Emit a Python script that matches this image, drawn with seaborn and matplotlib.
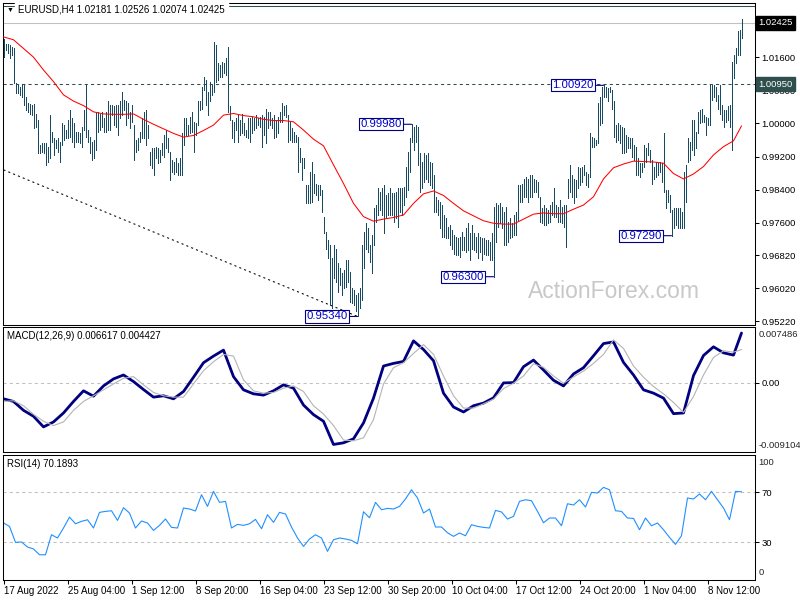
"""EURUSD H4 bar chart with moving average, MACD(12,26,9) and RSI(14) panes, MT4 style."""

import matplotlib
matplotlib.use("Agg")
import matplotlib.pyplot as plt
import numpy as np
import seaborn as sns

# 4h bars, 17 Aug 2022 -> 11 Nov 2022 (high / low)
highs = [
    1.0205, 1.0193, 1.0191, 1.0189, 1.0185, 1.0181, 1.0097, 1.0093, 1.0089, 1.0095,
    1.0093, 1.0065, 1.0049, 1.0046, 1.0045, 1.0046, 1.0024, 1.0008, 0.9948, 0.9952,
    0.9952, 0.9952, 0.9944, 1.0020, 0.9980, 0.9964, 0.9960, 0.9964, 0.9956, 1.0000,
    0.9996, 0.9984, 1.0008, 1.0032, 1.0012, 1.0000, 0.9980, 0.9980, 0.9976, 0.9992,
    1.0032, 1.0093, 0.9984, 0.9968, 0.9956, 0.9960, 1.0028, 1.0028, 1.0024, 1.0028,
    1.0012, 1.0028, 1.0053, 1.0045, 1.0045, 1.0041, 1.0045, 1.0045, 1.0053, 1.0077,
    1.0057, 1.0053, 1.0049, 1.0028, 1.0045, 0.9996, 0.9960, 0.9964, 0.9980, 1.0012,
    1.0028, 1.0032, 0.9996, 0.9932, 0.9940, 0.9940, 0.9944, 0.9940, 0.9936, 0.9952,
    0.9972, 0.9984, 0.9964, 0.9932, 0.9912, 0.9908, 0.9916, 0.9904, 0.9916, 0.9976,
    1.0012, 1.0012, 0.9996, 1.0016, 1.0028, 1.0004, 1.0000, 1.0053, 1.0053, 1.0089,
    1.0113, 1.0105, 1.0077, 1.0101, 1.0093, 1.0197, 1.0189, 1.0145, 1.0141, 1.0149,
    1.0145, 1.0157, 1.0185, 1.0041, 1.0008, 1.0004, 1.0012, 1.0020, 1.0008, 1.0024,
    1.0000, 0.9984, 1.0012, 1.0012, 1.0016, 1.0012, 1.0020, 1.0012, 1.0016, 1.0020,
    1.0016, 1.0036, 1.0028, 1.0028, 1.0012, 1.0020, 1.0008, 1.0016, 1.0028, 1.0049,
    1.0041, 1.0045, 1.0020, 1.0004, 0.9988, 0.9980, 0.9972, 0.9968, 0.9940, 0.9916,
    0.9916, 0.9851, 0.9851, 0.9883, 0.9908, 0.9879, 0.9855, 0.9851, 0.9851, 0.9839,
    0.9775, 0.9739, 0.9719, 0.9706, 0.9674, 0.9706, 0.9698, 0.9662, 0.9650, 0.9638,
    0.9646, 0.9670, 0.9670, 0.9642, 0.9602, 0.9598, 0.9586, 0.9590, 0.9602, 0.9706,
    0.9739, 0.9759, 0.9747, 0.9706, 0.9731, 0.9795, 0.9803, 0.9843, 0.9835,
    0.9843, 0.9851, 0.9827, 0.9831, 0.9843, 0.9831, 0.9831, 0.9835, 0.9843, 0.9843,
    0.9843, 0.9847, 0.9896, 0.9932, 0.9964, 0.9998, 0.9992, 0.9996, 0.9992, 0.9928,
    0.9908, 0.9928, 0.9924, 0.9928, 0.9908, 0.9904, 0.9875, 0.9823, 0.9815, 0.9811,
    0.9803, 0.9779, 0.9771, 0.9751, 0.9755, 0.9743, 0.9731, 0.9727, 0.9723, 0.9727,
    0.9739, 0.9727, 0.9747, 0.9759, 0.9735, 0.9755, 0.9735, 0.9727, 0.9735, 0.9727,
    0.9723, 0.9723, 0.9719, 0.9719, 0.9714, 0.9735, 0.9799, 0.9807, 0.9803, 0.9807,
    0.9799, 0.9787, 0.9799, 0.9763, 0.9771, 0.9759, 0.9779, 0.9787, 0.9851, 0.9851,
    0.9855, 0.9867, 0.9871, 0.9867, 0.9875, 0.9875, 0.9867, 0.9863, 0.9859, 0.9823,
    0.9795, 0.9803, 0.9795, 0.9791, 0.9803, 0.9811, 0.9843, 0.9803, 0.9799, 0.9815,
    0.9799, 0.9803, 0.9803, 0.9867, 0.9900, 0.9875, 0.9867, 0.9863, 0.9896, 0.9892,
    0.9896, 0.9900, 0.9883, 0.9879, 0.9976, 0.9968, 0.9964, 0.9960, 1.0049, 1.0065,
    1.0089, 1.0092, 1.0089, 1.0085, 1.0089, 1.0081, 1.0053, 0.9996, 1.0000, 0.9996,
    0.9992, 0.9988, 0.9972, 0.9968, 0.9964, 0.9964, 0.9948, 0.9944, 0.9916, 0.9904,
    0.9904, 0.9948, 0.9940, 0.9952, 0.9936, 0.9912, 0.9896, 0.9908, 0.9904, 0.9908,
    0.9904, 0.9976, 0.9839, 0.9839, 0.9827, 0.9791, 0.9795, 0.9795, 0.9795, 0.9795,
    0.9787, 0.9883, 0.9900, 0.9964, 0.9956, 1.0008, 1.0008, 0.9980, 1.0028, 1.0032,
    1.0036, 1.0020, 1.0016, 1.0012, 1.0093, 1.0093, 1.0093, 1.0089, 1.0069, 1.0093,
    1.0045, 1.0032, 1.0032, 1.0041, 1.0045, 1.0149, 1.0165, 1.0181, 1.0222, 1.0226,
    1.0253,
]
lows = [
    1.0161, 1.0177, 1.0169, 1.0157, 1.0165, 1.0097, 1.0073, 1.0073, 1.0069, 1.0065,
    1.0045, 1.0032, 1.0028, 1.0024, 1.0020, 0.9988, 0.9992, 0.9928, 0.9928, 0.9932,
    0.9928, 0.9900, 0.9908, 0.9916, 0.9956, 0.9924, 0.9940, 0.9932, 0.9908, 0.9948,
    0.9960, 0.9964, 0.9964, 0.9968, 0.9956, 0.9944, 0.9956, 0.9956, 0.9952, 0.9944,
    0.9984, 0.9968, 0.9956, 0.9928, 0.9912, 0.9916, 0.9936, 0.9980, 0.9984, 0.9992,
    0.9980, 0.9980, 0.9984, 0.9984, 1.0020, 0.9996, 0.9992, 0.9972, 1.0012, 1.0020,
    1.0032, 0.9996, 1.0012, 0.9988, 1.0004, 0.9912, 0.9932, 0.9936, 0.9956, 0.9964,
    0.9964, 0.9948, 0.9964, 0.9900, 0.9892, 0.9875, 0.9916, 0.9904, 0.9908, 0.9924,
    0.9920, 0.9940, 0.9932, 0.9863, 0.9883, 0.9879, 0.9883, 0.9875, 0.9875, 0.9875,
    0.9948, 0.9972, 0.9972, 0.9976, 0.9980, 0.9932, 0.9972, 0.9996, 1.0032, 1.0036,
    1.0081, 1.0045, 1.0020, 1.0053, 1.0069, 1.0077, 1.0101, 1.0105, 1.0113, 1.0113,
    1.0121, 1.0117, 1.0028, 1.0008, 0.9964, 0.9956, 0.9984, 0.9956, 0.9972, 0.9976,
    0.9972, 0.9968, 0.9964, 0.9956, 0.9976, 0.9984, 0.9988, 0.9996, 0.9992, 0.9944,
    0.9972, 0.9952, 0.9988, 0.9996, 0.9988, 0.9964, 0.9968, 0.9976, 1.0004, 1.0004,
    1.0020, 1.0016, 0.9956, 0.9960, 0.9956, 0.9956, 0.9956, 0.9883, 0.9908, 0.9863,
    0.9892, 0.9807, 0.9807, 0.9807, 0.9811, 0.9831, 0.9827, 0.9815, 0.9827, 0.9787,
    0.9735, 0.9698, 0.9674, 0.9562, 0.9554, 0.9626, 0.9618, 0.9594, 0.9610, 0.9586,
    0.9602, 0.9606, 0.9618, 0.9570, 0.9566, 0.9562, 0.9546, 0.9534, 0.9554, 0.9574,
    0.9650, 0.9698, 0.9690, 0.9666, 0.9638, 0.9706, 0.9763, 0.9779, 0.9791,
    0.9779, 0.9735, 0.9771, 0.9779, 0.9779, 0.9779, 0.9763, 0.9771, 0.9751, 0.9787,
    0.9779, 0.9803, 0.9823, 0.9839, 0.9883, 0.9956, 0.9936, 0.9956, 0.9900, 0.9835,
    0.9843, 0.9859, 0.9867, 0.9859, 0.9851, 0.9843, 0.9787, 0.9787, 0.9779, 0.9747,
    0.9727, 0.9727, 0.9723, 0.9723, 0.9706, 0.9698, 0.9686, 0.9682, 0.9682, 0.9678,
    0.9694, 0.9694, 0.9690, 0.9694, 0.9670, 0.9698, 0.9694, 0.9690, 0.9674, 0.9690,
    0.9670, 0.9686, 0.9682, 0.9682, 0.9670, 0.9670, 0.9630, 0.9714, 0.9751, 0.9759,
    0.9747, 0.9706, 0.9706, 0.9714, 0.9723, 0.9727, 0.9731, 0.9731, 0.9767, 0.9811,
    0.9811, 0.9823, 0.9823, 0.9811, 0.9823, 0.9823, 0.9835, 0.9835, 0.9823, 0.9763,
    0.9759, 0.9755, 0.9755, 0.9759, 0.9763, 0.9779, 0.9775, 0.9775, 0.9763, 0.9763,
    0.9759, 0.9751, 0.9702, 0.9819, 0.9835, 0.9823, 0.9807, 0.9823, 0.9843, 0.9851,
    0.9859, 0.9875, 0.9851, 0.9847, 0.9871, 0.9944, 0.9944, 0.9948, 0.9952, 0.9996,
    1.0000, 1.0065, 1.0065, 1.0053, 1.0077, 1.0036, 0.9968, 0.9956, 0.9960, 0.9952,
    0.9928, 0.9928, 0.9932, 0.9940, 0.9940, 0.9920, 0.9912, 0.9875, 0.9875, 0.9871,
    0.9883, 0.9896, 0.9908, 0.9924, 0.9908, 0.9855, 0.9867, 0.9871, 0.9875, 0.9883,
    0.9859, 0.9835, 0.9795, 0.9811, 0.9787, 0.9729, 0.9747, 0.9755, 0.9747, 0.9747,
    0.9747, 0.9747, 0.9811, 0.9908, 0.9912, 0.9936, 0.9924, 0.9940, 0.9976, 1.0000,
    1.0004, 1.0004, 0.9972, 0.9996, 0.9996, 1.0057, 1.0065, 1.0053, 1.0036, 1.0024,
    1.0008, 0.9992, 1.0004, 1.0008, 0.9992, 0.9936, 1.0109, 1.0145, 1.0165, 1.0165,
    1.0207,
]

# red moving average, read every 5th bar (+ last bar)
ma = [
    1.0209, 1.0202, 1.0181, 1.0160, 1.0129, 1.0101, 1.0069, 1.0054, 1.0043, 1.0028,
    1.0023, 1.0022, 1.0022, 1.0023, 1.0010, 0.9998, 0.9987, 0.9976, 0.9967, 0.9971,
    0.9983, 0.9996, 1.0020, 1.0024, 1.0019, 1.0016, 1.0010, 1.0007, 1.0007, 1.0004,
    0.9984, 0.9962, 0.9946, 0.9900, 0.9855, 0.9807, 0.9775, 0.9764,
    0.9769, 0.9773, 0.9779, 0.9807, 0.9830, 0.9837, 0.9826, 0.9807, 0.9789, 0.9777,
    0.9765, 0.9759, 0.9757, 0.9757, 0.9769, 0.9781, 0.9784, 0.9782, 0.9782, 0.9793,
    0.9803, 0.9823, 0.9866, 0.9893, 0.9902, 0.9909, 0.9908, 0.9907, 0.9904, 0.9879,
    0.9866, 0.9878, 0.9896, 0.9924, 0.9944, 0.9958, 0.9994,
]

# MACD main / signal, same sampling as the MA
macd = [
    -0.00211, -0.00246, -0.00364, -0.00443, -0.00584, -0.00518, -0.00399, -0.00246, -0.00105, -0.00176,
    -0.00040, 0.00053, 0.00105, 0.00018, -0.00088, -0.00189, -0.00171, -0.00211, -0.00114, 0.00075,
    0.00268, 0.00356, 0.00435, 0.00083, -0.00092, -0.00145, -0.00162, -0.00105, -0.00026, -0.00070,
    -0.00294, -0.00421, -0.00509, -0.00817, -0.00795, -0.00742, -0.00531, -0.00202, 0.00224, 0.00259,
    0.00285, 0.00558, 0.00443, 0.00294, -0.00136, -0.00320, -0.00386, -0.00303, -0.00268, -0.00198,
    0.00000, 0.00004, 0.00215, 0.00303, 0.00171, 0.00035, -0.00040, 0.00119, 0.00202, 0.00360,
    0.00522, 0.00544, 0.00272, 0.00105, -0.00092, -0.00136, -0.00202, -0.00408, -0.00399, 0.00097,
    0.00364, 0.00479, 0.00399, 0.00369, 0.00662,
]
signal = [
    -0.00246, -0.00237, -0.00303, -0.00417, -0.00509, -0.00566, -0.00518, -0.00364, -0.00246, -0.00171,
    -0.00092, -0.00013, 0.00061, 0.00083, -0.00026, -0.00127, -0.00171, -0.00189, -0.00189, -0.00013,
    0.00162, 0.00281, 0.00378, 0.00356, 0.00040, -0.00105, -0.00136, -0.00127, -0.00070, -0.00040,
    -0.00114, -0.00303, -0.00413, -0.00566, -0.00759, -0.00768, -0.00729, -0.00487, -0.00013, 0.00202,
    0.00268, 0.00391, 0.00509, 0.00378, 0.00092, -0.00171, -0.00334, -0.00334, -0.00277, -0.00215,
    -0.00075, -0.00004, 0.00092, 0.00255, 0.00206, 0.00092, -0.00004, 0.00079, 0.00158, 0.00259,
    0.00378, 0.00571, 0.00457, 0.00224, 0.00075, -0.00048, -0.00145, -0.00259, -0.00391, -0.00180,
    0.00105, 0.00338, 0.00426, 0.00408, 0.00443,
]

# RSI(14), read every 3rd bar
rsi = [
    45.2, 42.5, 29.7, 30.0, 26.0, 24.4, 19.8, 19.8, 35.8, 33.2,
    41.2, 49.9, 44.6, 46.5, 47.8, 41.2, 53.7, 54.5, 55.0, 47.3,
    57.4, 53.2, 41.2, 46.8, 45.2, 39.3, 43.3, 48.4, 41.7, 41.2,
    57.2, 56.4, 54.8, 67.8, 58.5, 70.5, 61.7, 62.5, 41.2, 44.1,
    43.3, 44.6, 48.1, 40.6, 51.8, 45.7, 53.7, 52.4, 42.0, 33.2,
    26.5, 32.4, 35.8, 33.2, 22.5, 31.8, 33.2, 32.4, 31.3, 28.6,
    54.2, 49.4, 61.7, 55.8, 56.9, 56.4, 58.5,
    64.4, 71.8, 65.2, 53.2, 56.4, 42.0, 42.0, 37.4, 34.5, 37.2,
    35.0, 43.8, 42.5, 41.7, 41.2, 55.3, 54.0, 48.4, 50.5, 62.5,
    63.8, 63.0, 54.5, 45.4, 49.2, 49.2, 43.0, 60.6, 59.6, 63.8,
    58.0, 69.7, 69.2, 73.7, 71.8, 55.0, 54.5, 49.2, 48.9, 39.8,
    49.2, 43.0, 45.2, 39.8, 33.7, 28.1, 35.0, 65.2, 64.4, 68.4,
    63.8, 70.5, 63.8, 57.2, 47.8, 70.5, 70.2,
]

date_labels = [
    "17 Aug 2022", "25 Aug 04:00", "1 Sep 12:00", "8 Sep 20:00", "16 Sep 04:00",
    "23 Sep 12:00", "30 Sep 20:00", "10 Oct 04:00", "17 Oct 12:00", "24 Oct 20:00",
    "1 Nov 04:00", "8 Nov 12:00",
]
price_ticks = [1.016, 1.008, 1.000, 0.992, 0.984, 0.976, 0.9682, 0.9602, 0.9522]

swing_bars = [177, 204, 245, 300, 334]
swing_prices = [0.9534, 0.9998, 0.9630, 1.0092, 0.9729]
trend_bars = [0, 177]
trend_prices = [0.9888, 0.9534]
level_price = 1.0095
upper_line = 1.0284
last_price = 1.02425

BAR_COLOR = "#174a63"
NAVY = "#000080"
W, H = 800, 600

sns.set_theme(style="white")
plt.rcParams["font.family"] = ["Liberation Sans", "DejaVu Sans"]
plt.rcParams["axes.linewidth"] = 0.75

fig = plt.figure(figsize=(W / 100, H / 100), dpi=100)
fig.patch.set_facecolor("white")


def panel(top, bottom):
    return fig.add_axes([2.5 / W, 1 - bottom / H, 752 / W, (bottom - top) / H])


ax = panel(2.5, 324.5)
ax_macd = panel(326.5, 451.5)
ax_rsi = panel(454.5, 579.5)

x = np.arange(len(highs))
step_x = np.r_[np.arange(0, 366, 5), len(highs) - 1]
rsi_x = np.arange(0, len(highs), 3)

for a in (ax, ax_macd, ax_rsi):
    a.set_xlim(-0.5, 375.5)
    a.set_facecolor("white")
    for s in a.spines.values():
        s.set_color("black")
        s.set_linewidth(0.75)
    a.yaxis.tick_right()
    a.tick_params(axis="y", direction="out", length=3, width=0.75, pad=2,
                  labelsize=6.8, colors="black", left=False, right=True)
    a.tick_params(axis="x", bottom=False, labelbottom=False)

# ---- price pane
ax.set_ylim(0.951459, 1.029199)
ax.axhline(upper_line, color="#2f4f4f", lw=0.75, zorder=1)
ax.axhline(last_price, color="#c0c0c0", lw=0.75, zorder=1)
ax.axhline(level_price, color="#2f4f4f", lw=0.75, ls=(0, (3, 3)), zorder=1)
ax.plot(trend_bars, trend_prices, color="black", lw=0.75, ls=(0, (2, 3)), zorder=1)
ax.vlines(x, lows, highs, color=BAR_COLOR, lw=0.6, antialiased=False, zorder=2)
sns.lineplot(x=step_x, y=ma, ax=ax, color="red", lw=0.75, zorder=3)
ax.set_yticks(price_ticks)
ax.set_yticklabels([f"{p:.5f}" for p in price_ticks])
ax.set_xlabel("")
ax.set_ylabel("")

for bar, price in zip(swing_bars, swing_prices):
    ax.annotate(f"{price:.5f}", xy=(bar, price), xytext=(-7, 0), textcoords="offset points",
                ha="right", va="center", fontsize=8.2, color="#0000cc",
                bbox=dict(boxstyle="square,pad=0.1", fc="white", ec=NAVY, lw=0.8),
                arrowprops=dict(arrowstyle="-", color=NAVY, lw=0.8, shrinkA=0, shrinkB=0),
                zorder=5)

for price, face in [(last_price, "black"), (level_price, "#2f4f4f")]:
    ax.annotate(f"{price:.5f}", xy=(1, price), xycoords=("axes fraction", "data"),
                xytext=(3, 0), textcoords="offset points", ha="left", va="center",
                fontsize=6.8, color="white", annotation_clip=False,
                bbox=dict(boxstyle="square,pad=0.25", fc=face, ec=face), zorder=6)

fig.text(614 / W, 1 - 292 / H, "ActionForex.com", ha="center", va="center",
         fontsize=16.5, color="#c8c8c8")

# ---- MACD pane
ax_macd.set_ylim(-0.009104, 0.007486)
ax_macd.axhline(0, color="#c0c0c0", lw=0.75, ls=(0, (3, 3)))
sns.lineplot(x=step_x, y=macd, ax=ax_macd, color=NAVY, lw=2.0)
sns.lineplot(x=step_x, y=signal, ax=ax_macd, color="#b4b4b4", lw=0.8)
ax_macd.set_yticks([0])
ax_macd.set_yticklabels(["0.00"])
ax_macd.annotate("0.007486", xy=(1, 1), xycoords="axes fraction", xytext=(3, -5.5),
                 textcoords="offset points", ha="left", va="center", fontsize=6.8,
                 annotation_clip=False)
ax_macd.annotate("-0.009104", xy=(1, 0), xycoords="axes fraction", xytext=(3, 4),
                 textcoords="offset points", ha="left", va="center", fontsize=6.8,
                 annotation_clip=False)
ax_macd.set_xlabel("")
ax_macd.set_ylabel("")

# ---- RSI pane
ax_rsi.set_ylim(0, 100)
for lvl in (30, 70):
    ax_rsi.axhline(lvl, color="#c0c0c0", lw=0.75, ls=(0, (3, 3)))
sns.lineplot(x=rsi_x, y=rsi, ax=ax_rsi, color="#1e90ff", lw=0.8)
ax_rsi.set_yticks([30, 70])
ax_rsi.set_yticklabels(["30", "70"])
ax_rsi.annotate("100", xy=(1, 1), xycoords="axes fraction", xytext=(3, -5.5),
                textcoords="offset points", ha="left", va="center", fontsize=6.8,
                annotation_clip=False)
ax_rsi.annotate("0", xy=(1, 0), xycoords="axes fraction", xytext=(3, 5),
                textcoords="offset points", ha="left", va="center", fontsize=6.8,
                annotation_clip=False)
ax_rsi.set_xticks(np.arange(0, len(highs), 32)[:len(date_labels)])
ax_rsi.set_xticklabels(date_labels, ha="left")
ax_rsi.tick_params(axis="x", bottom=True, labelbottom=True, direction="out", length=3,
                   width=0.75, pad=2, labelsize=7, colors="black")
ax_rsi.set_xlabel("")
ax_rsi.set_ylabel("")

# ---- pane captions
fig.text(18 / W, 1 - 10 / H, "EURUSD,H4 1.02181 1.02526 1.02074 1.02425",
         ha="left", va="center", fontsize=7, color="black",
         bbox=dict(boxstyle="square,pad=0.35", fc="white", ec="white"))
fig.text(7 / W, 1 - 10 / H, "\u25bc", ha="left", va="center", fontsize=5, color="black")
fig.text(7 / W, 1 - 336 / H, "MACD(12,26,9) 0.006617 0.004427", ha="left", va="center",
         fontsize=7, color="black")
fig.text(7 / W, 1 - 464 / H, "RSI(14) 70.1893", ha="left", va="center",
         fontsize=7, color="black")

fig.savefig("out.png", dpi=100, facecolor="white")
